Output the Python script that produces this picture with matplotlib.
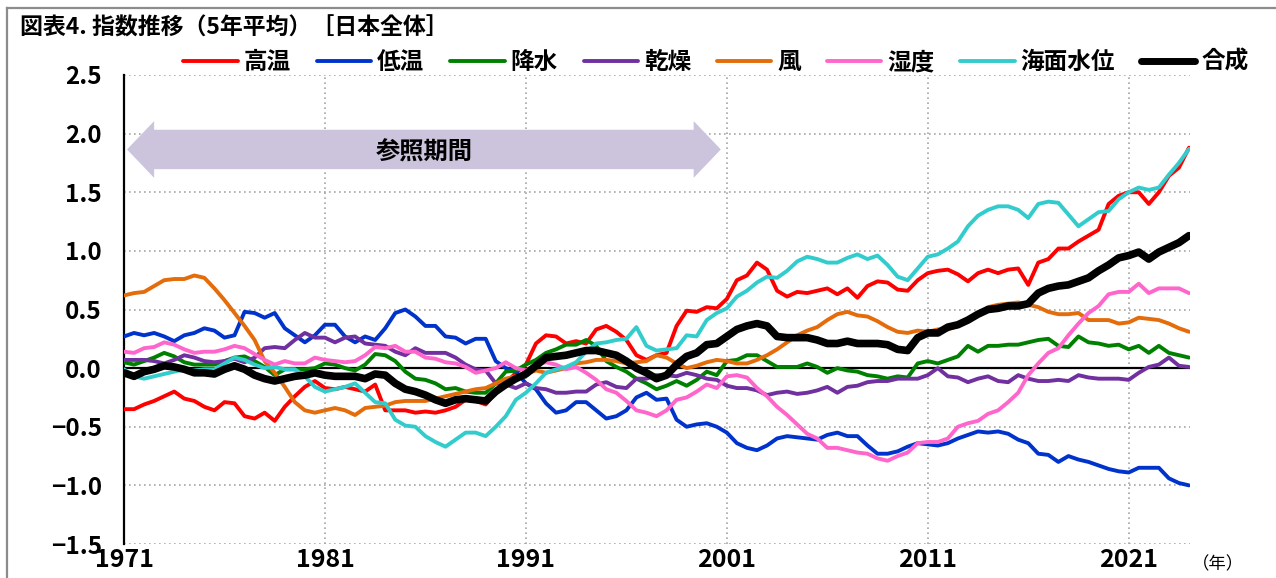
import numpy as np
import matplotlib
matplotlib.use("Agg")
import matplotlib.pyplot as plt
from matplotlib.patches import Polygon
from matplotlib.lines import Line2D
from matplotlib.ticker import FixedLocator, FuncFormatter

plt.rcParams['font.family'] = ['Noto Sans CJK JP', 'DejaVu Sans']
plt.rcParams['axes.unicode_minus'] = True

# ---------------- data ----------------
TITLE = "図表4. 指数推移（5年平均）［日本全体］"
SERIES_NAMES = ["高温", "低温", "降水", "乾燥", "風", "湿度", "海面水位", "合成"]
START_YEAR = 1971
STEP = 0.5            # half-year sampling
X_TICKS = [1971, 1981, 1991, 2001, 2011, 2021]
Y_TICKS = [-1.5, -1.0, -0.5, 0.0, 0.5, 1.0, 1.5, 2.0, 2.5]
REF_LABEL = "参照期間"
REF_START = 1971.15
REF_END = 2000.7
UNIT_LABEL = "（年）"

high_temp = [
    -0.35, -0.35, -0.31, -0.28, -0.24, -0.20, -0.26, -0.28, -0.33, -0.36,
    -0.29, -0.30, -0.41, -0.43, -0.38, -0.45, -0.33, -0.24, -0.16, -0.11,
    -0.17, -0.18, -0.16, -0.18, -0.20, -0.14, -0.36, -0.36, -0.36, -0.38,
    -0.37, -0.38, -0.36, -0.33, -0.27, -0.28, -0.31, -0.21, -0.13, -0.04,
    0.03, 0.21, 0.28, 0.27, 0.21, 0.23, 0.21, 0.33, 0.36, 0.31,
    0.24, 0.11, 0.07, 0.11, 0.13, 0.36, 0.49, 0.48, 0.52, 0.51,
    0.59, 0.75, 0.79, 0.90, 0.84, 0.66, 0.61, 0.65, 0.64, 0.66,
    0.68, 0.63, 0.68, 0.60, 0.70, 0.74, 0.73, 0.67, 0.66, 0.75,
    0.81, 0.83, 0.84, 0.80, 0.74, 0.81, 0.84, 0.81, 0.84, 0.85,
    0.71, 0.90, 0.93, 1.02, 1.02, 1.08, 1.13, 1.18, 1.40, 1.47,
    1.50, 1.50, 1.40, 1.50, 1.64, 1.71, 1.88]

low_temp = [
    0.27, 0.30, 0.28, 0.30, 0.27, 0.23, 0.28, 0.30, 0.34, 0.32,
    0.26, 0.28, 0.48, 0.47, 0.43, 0.47, 0.34, 0.28, 0.22, 0.28,
    0.37, 0.37, 0.27, 0.22, 0.27, 0.24, 0.34, 0.47, 0.50, 0.44,
    0.36, 0.36, 0.27, 0.26, 0.21, 0.25, 0.25, 0.06, 0.00, -0.03,
    -0.13, -0.18, -0.30, -0.38, -0.36, -0.29, -0.29, -0.36, -0.43, -0.41,
    -0.36, -0.25, -0.21, -0.27, -0.26, -0.44, -0.50, -0.48, -0.47, -0.50,
    -0.55, -0.64, -0.68, -0.70, -0.66, -0.60, -0.58, -0.59, -0.60, -0.61,
    -0.57, -0.55, -0.58, -0.58, -0.66, -0.73, -0.73, -0.71, -0.67, -0.64,
    -0.65, -0.66, -0.64, -0.60, -0.57, -0.54, -0.55, -0.54, -0.56, -0.61,
    -0.64, -0.73, -0.74, -0.80, -0.75, -0.78, -0.80, -0.83, -0.86, -0.88,
    -0.89, -0.85, -0.85, -0.85, -0.94, -0.98, -1.00]

precipitation = [
    0.05, 0.03, 0.06, 0.09, 0.13, 0.10, 0.05, 0.03, 0.03, 0.03,
    0.06, 0.09, 0.10, 0.06, 0.01, -0.06, -0.01, -0.01, -0.01, 0.00,
    0.04, 0.03, 0.00, -0.02, 0.03, 0.12, 0.11, 0.06, -0.03, -0.09,
    -0.10, -0.13, -0.18, -0.17, -0.20, -0.21, -0.21, -0.13, -0.03, -0.02,
    0.03, 0.07, 0.13, 0.16, 0.20, 0.20, 0.24, 0.19, 0.06, 0.01,
    -0.03, -0.09, -0.13, -0.18, -0.15, -0.11, -0.15, -0.10, -0.03, -0.06,
    0.06, 0.07, 0.11, 0.11, 0.06, 0.01, 0.01, 0.01, 0.04, 0.01,
    -0.04, 0.00, -0.02, -0.03, -0.06, -0.07, -0.09, -0.07, -0.08, 0.04,
    0.06, 0.04, 0.07, 0.10, 0.19, 0.14, 0.19, 0.19, 0.20, 0.20,
    0.22, 0.24, 0.25, 0.19, 0.18, 0.27, 0.22, 0.21, 0.19, 0.20,
    0.16, 0.19, 0.13, 0.19, 0.13, 0.11, 0.09]

dryness = [
    0.07, 0.07, 0.07, 0.06, 0.04, 0.07, 0.11, 0.09, 0.06, 0.05,
    0.06, 0.08, 0.05, 0.09, 0.17, 0.18, 0.17, 0.24, 0.30, 0.26,
    0.26, 0.22, 0.26, 0.27, 0.21, 0.20, 0.19, 0.14, 0.11, 0.17,
    0.13, 0.13, 0.13, 0.09, 0.03, -0.01, -0.02, -0.13, -0.14, -0.17,
    -0.13, -0.17, -0.18, -0.21, -0.21, -0.20, -0.20, -0.14, -0.12, -0.16,
    -0.17, -0.09, -0.09, -0.06, -0.06, -0.07, -0.04, -0.06, -0.09, -0.10,
    -0.15, -0.17, -0.17, -0.19, -0.23, -0.21, -0.20, -0.22, -0.21, -0.19,
    -0.16, -0.21, -0.16, -0.15, -0.12, -0.11, -0.11, -0.09, -0.09, -0.09,
    -0.06, 0.00, -0.07, -0.08, -0.12, -0.09, -0.07, -0.11, -0.12, -0.06,
    -0.09, -0.11, -0.11, -0.10, -0.11, -0.06, -0.08, -0.09, -0.09, -0.09,
    -0.10, -0.04, 0.01, 0.03, 0.09, 0.02, 0.01]

wind = [
    0.62, 0.64, 0.65, 0.70, 0.75, 0.76, 0.76, 0.79, 0.77, 0.68,
    0.58, 0.47, 0.36, 0.24, 0.06, -0.04, -0.16, -0.29, -0.36, -0.38,
    -0.36, -0.34, -0.36, -0.40, -0.34, -0.33, -0.32, -0.29, -0.28, -0.28,
    -0.28, -0.26, -0.24, -0.22, -0.20, -0.18, -0.17, -0.13, -0.09, -0.07,
    -0.05, -0.02, -0.04, -0.02, 0.00, 0.04, 0.05, 0.07, 0.07, 0.06,
    0.04, 0.05, 0.06, 0.11, 0.09, 0.04, 0.00, 0.02, 0.05, 0.07,
    0.06, 0.04, 0.04, 0.07, 0.11, 0.16, 0.22, 0.28, 0.32, 0.35,
    0.41, 0.46, 0.48, 0.45, 0.44, 0.40, 0.35, 0.31, 0.30, 0.32,
    0.31, 0.33, 0.33, 0.36, 0.40, 0.46, 0.52, 0.54, 0.55, 0.56,
    0.54, 0.52, 0.48, 0.46, 0.46, 0.47, 0.41, 0.41, 0.41, 0.38,
    0.39, 0.43, 0.42, 0.41, 0.38, 0.34, 0.31]

humidity = [
    0.14, 0.13, 0.17, 0.18, 0.22, 0.20, 0.16, 0.13, 0.14, 0.14,
    0.16, 0.19, 0.17, 0.12, 0.07, 0.03, 0.06, 0.04, 0.04, 0.09,
    0.07, 0.06, 0.05, 0.06, 0.11, 0.18, 0.17, 0.19, 0.14, 0.14,
    0.09, 0.08, 0.05, 0.04, 0.01, -0.04, -0.02, 0.00, 0.05, 0.00,
    -0.02, 0.03, 0.05, 0.03, -0.01, 0.01, -0.04, -0.10, -0.18, -0.21,
    -0.28, -0.36, -0.38, -0.41, -0.36, -0.27, -0.25, -0.20, -0.14, -0.17,
    -0.07, -0.06, -0.08, -0.17, -0.24, -0.33, -0.40, -0.48, -0.56, -0.60,
    -0.68, -0.68, -0.70, -0.72, -0.73, -0.77, -0.79, -0.75, -0.72, -0.64,
    -0.63, -0.63, -0.60, -0.50, -0.47, -0.45, -0.39, -0.36, -0.29, -0.21,
    -0.06, 0.04, 0.13, 0.17, 0.28, 0.38, 0.47, 0.53, 0.63, 0.65,
    0.65, 0.72, 0.64, 0.68, 0.68, 0.68, 0.64]

sea_level = [
    -0.01, -0.07, -0.09, -0.07, -0.05, -0.03, -0.01, -0.02, -0.01, -0.01,
    0.04, 0.09, 0.07, 0.03, 0.00, 0.01, -0.01, -0.01, -0.07, -0.16,
    -0.20, -0.18, -0.16, -0.13, -0.21, -0.29, -0.30, -0.44, -0.49, -0.50,
    -0.58, -0.63, -0.67, -0.61, -0.55, -0.55, -0.58, -0.50, -0.41, -0.27,
    -0.21, -0.13, -0.04, -0.01, 0.01, 0.05, 0.14, 0.21, 0.22, 0.24,
    0.25, 0.35, 0.19, 0.15, 0.16, 0.17, 0.28, 0.27, 0.41, 0.47,
    0.51, 0.61, 0.66, 0.73, 0.78, 0.77, 0.83, 0.91, 0.95, 0.93,
    0.90, 0.90, 0.94, 0.97, 0.93, 0.96, 0.88, 0.78, 0.75, 0.85,
    0.95, 0.97, 1.02, 1.08, 1.21, 1.30, 1.35, 1.38, 1.38, 1.35,
    1.28, 1.40, 1.42, 1.41, 1.31, 1.21, 1.27, 1.33, 1.34, 1.44,
    1.50, 1.54, 1.52, 1.54, 1.65, 1.75, 1.87]

composite = [
    -0.04, -0.07, -0.03, -0.01, 0.02, 0.01, -0.01, -0.04, -0.04, -0.05,
    -0.01, 0.02, -0.01, -0.06, -0.09, -0.11, -0.09, -0.07, -0.06, -0.04,
    -0.06, -0.07, -0.07, -0.07, -0.09, -0.05, -0.06, -0.13, -0.18, -0.20,
    -0.23, -0.27, -0.30, -0.27, -0.26, -0.27, -0.28, -0.20, -0.14, -0.09,
    -0.05, 0.02, 0.09, 0.10, 0.11, 0.13, 0.15, 0.15, 0.13, 0.11,
    0.06, 0.00, -0.04, -0.09, -0.06, 0.03, 0.10, 0.13, 0.20, 0.21,
    0.27, 0.33, 0.36, 0.38, 0.36, 0.27, 0.26, 0.26, 0.26, 0.24,
    0.21, 0.21, 0.23, 0.21, 0.21, 0.21, 0.20, 0.16, 0.15, 0.26,
    0.30, 0.30, 0.35, 0.37, 0.41, 0.46, 0.50, 0.51, 0.53, 0.53,
    0.55, 0.64, 0.68, 0.70, 0.71, 0.74, 0.77, 0.83, 0.88, 0.94,
    0.96, 0.99, 0.93, 0.99, 1.03, 1.07, 1.13]

SERIES = [high_temp, low_temp, precipitation, dryness, wind, humidity,
          sea_level, composite]

# ---------------- style ----------------
COLORS = ["#FF0000", "#0033CC", "#008000", "#7030A0", "#E46C0A",
          "#FF66CC", "#33CCCC", "#000000"]
WIDTHS = [2.8, 2.8, 2.8, 2.8, 2.8, 2.8, 2.8, 5.5]
GRID_COLOR = "#A6A6A6"
ARROW_COLOR = "#CCC3DC"

W, H = 1276, 578
fig = plt.figure(figsize=(W / 100, H / 100), dpi=100)
fig.patch.set_facecolor("white")

ax = fig.add_axes([124 / W, 34 / H, 1066 / W, 469 / H])

n = len(composite)
years = START_YEAR + STEP * np.arange(n)

# grid
for yv in Y_TICKS:
    if yv != 0:
        ax.axhline(yv, color=GRID_COLOR, lw=1.2, ls=(0, (1, 2)), zorder=0)
for xv in X_TICKS[1:]:
    ax.axvline(xv, color=GRID_COLOR, lw=1.2, ls=(0, (1, 2)), zorder=0)
ax.axhline(0, color="black", lw=1.6, zorder=1)

# reference period arrow
yc, body, head, hl = 1.865, 0.168, 0.242, 1.35
arrow_pts = [
    (REF_START, yc), (REF_START + hl, yc + head), (REF_START + hl, yc + body),
    (REF_END - hl, yc + body), (REF_END - hl, yc + head), (REF_END, yc),
    (REF_END - hl, yc - head), (REF_END - hl, yc - body),
    (REF_START + hl, yc - body), (REF_START + hl, yc - head)]
ax.add_patch(Polygon(arrow_pts, closed=True, facecolor=ARROW_COLOR,
                     edgecolor="none", zorder=1))
ax.text(1985.96, 1.84, REF_LABEL, ha="center", va="center",
        fontsize=17.5, fontweight="bold", zorder=2)

for name, vals, col, lw in zip(SERIES_NAMES, SERIES, COLORS, WIDTHS):
    ax.plot(years, vals, color=col, lw=lw, label=name, zorder=3,
            solid_capstyle="round", solid_joinstyle="round")

ax.set_xlim(START_YEAR, 2024.05)
ax.set_ylim(-1.5, 2.5)
ax.xaxis.set_major_locator(FixedLocator(X_TICKS))
ax.yaxis.set_major_locator(FixedLocator(Y_TICKS))
ax.yaxis.set_major_formatter(FuncFormatter(lambda v, p: f"{v:.1f}".replace("-", "\u2212")))
ax.tick_params(axis="both", length=0)
ax.tick_params(axis="y", pad=16, labelsize=17.5)
ax.tick_params(axis="x", pad=3, labelsize=18)
for lab in ax.get_yticklabels() + ax.get_xticklabels():
    lab.set_fontweight("bold")
for lab in ax.get_xticklabels():
    lab.set_family(["Liberation Sans Narrow", "Noto Sans CJK JP"])

for s in ["top", "right", "bottom"]:
    ax.spines[s].set_visible(False)
ax.spines["left"].set_color("black")
ax.spines["left"].set_linewidth(1.6)
ax.set_facecolor("white")

# legend
leg_handles = [Line2D([0], [0], color=c, lw=(5.0 if c == "#000000" else 2.8),
                      solid_capstyle="round") for c in COLORS]
fig.legend(leg_handles, SERIES_NAMES, ncol=8, loc="center",
           bbox_to_anchor=(716 / W, 1 - 62 / H), frameon=False,
           prop={"size": 17, "weight": "bold"}, handlelength=2.3,
           handletextpad=0.25, columnspacing=1.1, borderpad=0, borderaxespad=0)

# title and unit
fig.text(20 / W, 1 - 28 / H, TITLE, ha="left", va="center", fontsize=16.5,
         fontweight="bold")
fig.text(1218 / W, 1 - 564 / H, UNIT_LABEL, ha="center", va="center",
         fontsize=12.5)

# outer frame (left and top edges)
fig.add_artist(Line2D([7 / W, 7 / W], [0, 1 - 8 / H], transform=fig.transFigure,
                      color="#8C8C8C", lw=1.6))
fig.add_artist(Line2D([7 / W, 1], [1 - 8 / H, 1 - 8 / H], transform=fig.transFigure,
                      color="#8C8C8C", lw=1.6))

fig.savefig("out.png", dpi=100, facecolor="white")
